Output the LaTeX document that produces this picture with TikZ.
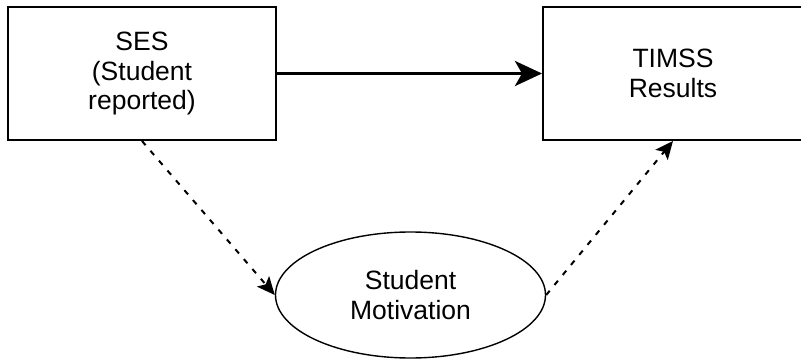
\documentclass[tikz,border=0pt]{standalone}
\usepackage{fontspec}
\setmainfont{Liberation Sans}
\usetikzlibrary{arrows.meta,shapes.geometric}

\tikzset{
  boxnode/.style={draw=black, line width=2pt, fill=white, minimum width=268pt,
    minimum height=133pt, inner sep=0pt, align=center,
    font=\fontsize{26.5}{29.5}\selectfont},
  ovalnode/.style={ellipse, draw=black, line width=1.4pt, fill=white,
    minimum width=270pt, minimum height=126pt, inner sep=0pt, align=center,
    font=\fontsize{26.5}{29.5}\selectfont},
  mainlink/.style={line width=3.5pt, -{Stealth[length=27pt,width=25pt,inset=7pt]}},
  sidelink/.style={line width=2pt, dash pattern=on 5.5pt off 7.5pt,
    -{Stealth[length=18pt,width=16pt,inset=4pt]}}
}

\begin{document}
\begin{tikzpicture}[x=1pt,y=-1pt]
  \useasboundingbox (0,0) rectangle (801,361);
  \clip (0,0) rectangle (801,361);

  \node[boxnode] (ses) at (142,73.5) {SES\\(Student\\reported)};
  \node[boxnode, minimum width=260pt] (timss) at (673,73.5) {TIMSS\\Results};
  \node[ovalnode] (mot) at (410.5,295) {Student\\Motivation};

  \draw[mainlink] (ses.east) -- (timss.west);
  \draw[sidelink] (ses.south) -- (mot.west);
  \draw[sidelink] (mot.east) -- (timss.south);
\end{tikzpicture}
\end{document}
